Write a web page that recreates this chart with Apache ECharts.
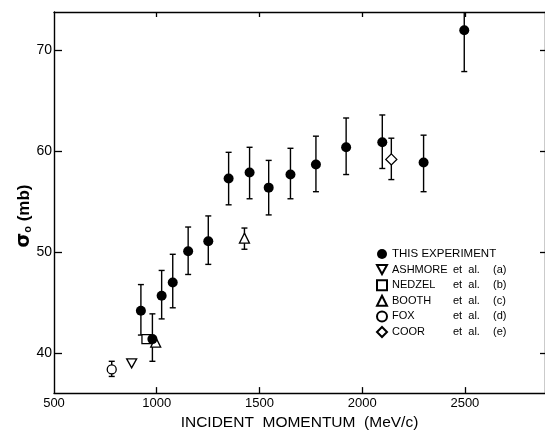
<!DOCTYPE html>
<html>
<head>
  <meta charset="utf-8">
  <title>Total cross section vs incident momentum</title>
  <style>
    html, body { margin: 0; padding: 0; background: #fff; }
    #chart { width: 545px; height: 436px; }
  </style>
</head>
<body>
  <div id="chart"></div>
  <script src="https://cdn.jsdelivr.net/npm/echarts@6/dist/echarts.min.js"></script>
  <script>
    // tick positions
    const xTicks = [500, 1000, 1500, 2000, 2500]
    const yTicks = [40, 50, 60, 70]

    // this experiment (filled circles with error bars)
    const thisMomentum = [923, 979, 1024, 1078, 1153, 1251, 1350, 1452, 1545, 1651, 1775, 1922, 2098, 2299, 2497]
    const thisSigma = [44.2, 41.4, 45.7, 47.0, 50.1, 51.1, 57.3, 57.9, 56.4, 57.7, 58.7, 60.4, 60.9, 58.9, 72.0]
    const thisLow = [41.8, 39.2, 43.4, 44.5, 47.8, 48.8, 54.7, 55.3, 53.7, 55.3, 56.0, 57.7, 58.3, 56.0, 67.9]
    const thisHigh = [46.8, 43.9, 48.2, 49.8, 52.5, 53.6, 59.9, 60.4, 59.1, 60.3, 61.5, 63.3, 63.6, 61.6, 76.0]

    // other measurements
    const ashmoreMomentum = [878]
    const ashmoreSigma = [39.0]
    const nedzelMomentum = [950]
    const nedzelSigma = [41.4]
    const boothMomentum = [995, 1427]
    const boothSigma = [41.1, 51.4]
    const boothLow = [null, 50.3]
    const boothHigh = [null, 52.4]
    const foxMomentum = [781]
    const foxSigma = [38.4]
    const foxLow = [37.7]
    const foxHigh = [39.2]
    const coorMomentum = [2142]
    const coorSigma = [59.2]
    const coorLow = [57.2]
    const coorHigh = [61.3]

    // legend names
    const legendNames = ['THIS EXPERIMENT', 'ASHMORE', 'NEDZEL', 'BOOTH', 'FOX', 'COOR']
    const legendRefs = { ASHMORE: '(a)', NEDZEL: '(b)', BOOTH: '(c)', FOX: '(d)', COOR: '(e)' }

    const ink = '#000'
    const font = 'Liberation Sans'

    function pairs(xs, ys) {
      return xs.map((x, i) => [x, ys[i]])
    }

    function errorSeries(name, xs, lows, highs) {
      let data = []
      xs.forEach((x, i) => {
        if (lows[i] != null) data.push([x, lows[i], highs[i]])
      })
      return {
        name,
        type: 'custom',
        clip: true,
        z: 1,
        silent: true,
        encode: { x: 0, y: [1, 2] },
        renderItem: function (params, api) {
          let x = api.value(0)
          let top = api.coord([x, api.value(2)])
          let bot = api.coord([x, api.value(1)])
          let hw = 3
          let style = { stroke: ink, lineWidth: 1.4 }
          return {
            type: 'group',
            children: [
              { type: 'line', shape: { x1: top[0], y1: top[1], x2: bot[0], y2: bot[1] }, style },
              { type: 'line', shape: { x1: top[0] - hw, y1: top[1], x2: top[0] + hw, y2: top[1] }, style },
              { type: 'line', shape: { x1: bot[0] - hw, y1: bot[1], x2: bot[0] + hw, y2: bot[1] }, style },
            ],
          }
        },
        data,
      }
    }

    let openStyle = { color: '#fff', borderColor: ink, borderWidth: 1.3, opacity: 1 }

    let chart = echarts.init(document.getElementById('chart'))

    let option = {
      animation: false,
      backgroundColor: '#fff',
      textStyle: { fontFamily: font, color: ink },
      grid: { left: 54, right: -2, top: 12, bottom: 33 },
      legend: {
        data: legendNames,
        orient: 'vertical',
        left: 371,
        top: 243,
        itemWidth: 10,
        itemHeight: 10,
        itemGap: 3.6,
        selectedMode: false,
        textStyle: {
          fontFamily: font,
          fontSize: 11.5,
          lineHeight: 12,
          color: ink,
          rich: {
            n: { width: 61, fontSize: 11, lineHeight: 12, fontFamily: font, color: ink },
            e: { width: 40, fontSize: 11, lineHeight: 12, fontFamily: font, color: ink },
            l: { fontSize: 11, lineHeight: 12, fontFamily: font, color: ink },
          },
        },
        formatter: function (name) {
          if (!legendRefs[name]) return name
          return '{n|' + name + '}{e|et  al.}{l|' + legendRefs[name] + '}'
        },
      },
      xAxis: [
        {
          type: 'value',
          min: 500,
          max: 2890,
          name: 'INCIDENT  MOMENTUM  (MeV/c)',
          nameLocation: 'middle',
          nameGap: 21,
          nameTextStyle: { fontFamily: font, fontSize: 15.5, color: ink },
          axisLine: { show: true, lineStyle: { color: ink, width: 1.4 } },
          axisTick: { show: true, inside: true, length: 6, customValues: xTicks.slice(1), lineStyle: { color: ink, width: 1.3 } },
          axisLabel: { customValues: xTicks, fontSize: 13, color: ink, margin: 4, formatter: (v) => String(v) },
          splitLine: { show: false },
        },
        {
          type: 'value',
          position: 'top',
          min: 500,
          max: 2890,
          axisLine: { show: true, lineStyle: { color: ink, width: 1.4 } },
          axisTick: { show: true, inside: true, length: 5, customValues: xTicks.slice(1), lineStyle: { color: ink, width: 1.3 } },
          axisLabel: { show: false },
          splitLine: { show: false },
        },
      ],
      yAxis: [
        {
          type: 'value',
          min: 36.05,
          max: 73.8,
          axisLine: { show: true, lineStyle: { color: ink, width: 1.4 } },
          axisTick: { show: true, inside: true, length: 8, customValues: yTicks, lineStyle: { color: ink, width: 1.3 } },
          axisLabel: { customValues: yTicks, fontSize: 14, color: ink, margin: 2 },
          splitLine: { show: false },
        },
        {
          type: 'value',
          position: 'right',
          min: 36.05,
          max: 73.8,
          axisLine: { show: true, lineStyle: { color: ink, width: 1.4 } },
          axisTick: { show: true, inside: true, length: 5, customValues: yTicks, lineStyle: { color: ink, width: 1.3 } },
          axisLabel: { show: false },
          splitLine: { show: false },
        },
      ],
      graphic: [
        {
          type: 'text',
          x: 24,
          y: 216,
          rotation: Math.PI / 2,
          style: {
            text: '{s|σ}{o|o}{t| (mb)}',
            align: 'center',
            verticalAlign: 'middle',
            rich: {
              s: { fontFamily: 'DejaVu Sans', fontSize: 19, fontWeight: 'bold', fill: ink },
              o: { fontFamily: font, fontSize: 11, fontWeight: 'bold', fill: ink, padding: [8, 0, 0, 0] },
              t: { fontFamily: font, fontSize: 17, fontWeight: 'bold', fill: ink },
            },
          },
        },
      ],
      series: [
        errorSeries('err-this', thisMomentum, thisLow, thisHigh),
        errorSeries('err-booth', boothMomentum, boothLow, boothHigh),
        errorSeries('err-fox', foxMomentum, foxLow, foxHigh),
        errorSeries('err-coor', coorMomentum, coorLow, coorHigh),
        {
          name: 'ASHMORE',
          type: 'scatter',
          symbol: 'path://M0,0 L10,0 L5,9 Z',
          symbolSize: [10, 9],
          itemStyle: openStyle,
          z: 2,
          data: pairs(ashmoreMomentum, ashmoreSigma),
        },
        {
          name: 'NEDZEL',
          type: 'scatter',
          symbol: 'rect',
          symbolSize: 9,
          itemStyle: openStyle,
          z: 2,
          data: pairs(nedzelMomentum, nedzelSigma),
        },
        {
          name: 'BOOTH',
          type: 'scatter',
          symbol: 'triangle',
          symbolSize: 10,
          itemStyle: openStyle,
          z: 2,
          data: pairs(boothMomentum, boothSigma),
        },
        {
          name: 'FOX',
          type: 'scatter',
          symbol: 'circle',
          symbolSize: 9,
          itemStyle: openStyle,
          z: 2,
          data: pairs(foxMomentum, foxSigma),
        },
        {
          name: 'COOR',
          type: 'scatter',
          symbol: 'diamond',
          symbolSize: [11, 11],
          itemStyle: openStyle,
          z: 2,
          data: pairs(coorMomentum, coorSigma),
        },
        {
          name: 'THIS EXPERIMENT',
          type: 'scatter',
          symbol: 'circle',
          symbolSize: 10,
          itemStyle: { color: ink, opacity: 1 },
          z: 3,
          data: pairs(thisMomentum, thisSigma),
        },
      ],
    }

    chart.setOption(option)
  </script>
</body>
</html>
